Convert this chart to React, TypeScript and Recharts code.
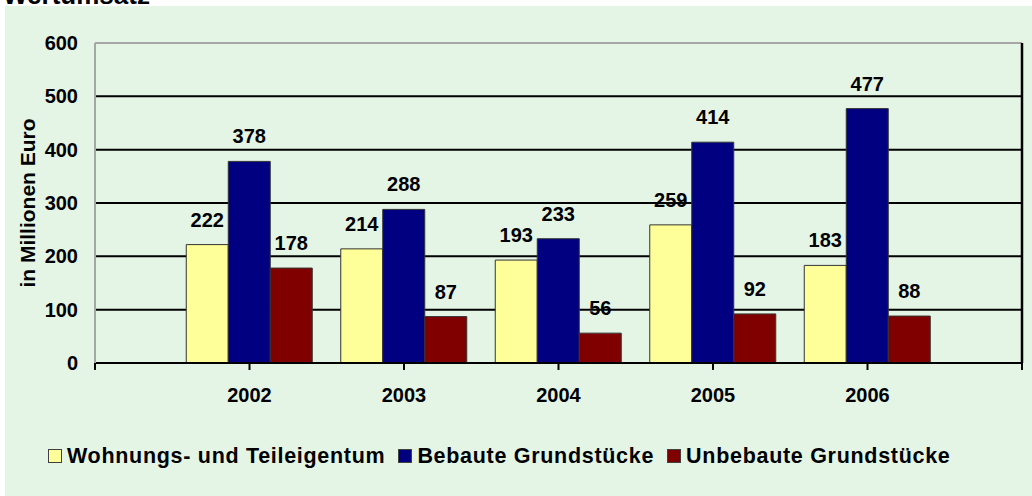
import React from 'react';
import { Bar, BarChart, CartesianGrid, LabelList, Legend, ReferenceLine, XAxis, YAxis } from 'recharts';

const years = ['2002', '2003', '2004', '2005', '2006'];
const wohnung = [222, 214, 193, 259, 183];
const bebaut = [378, 288, 233, 414, 477];
const unbebaut = [178, 87, 56, 92, 88];
const yTicks = [0, 100, 200, 300, 400, 500, 600];

const series = [
  { key: 'wohnung', name: 'Wohnungs- und Teileigentum', color: '#FFFF99' },
  { key: 'bebaut', name: 'Bebaute Grundstücke', color: '#000080' },
  { key: 'unbebaut', name: 'Unbebaute Grundstücke', color: '#800000' }
];

const data = years.map((year, i) => ({
  x: i + 1,
  year,
  wohnung: wohnung[i],
  bebaut: bebaut[i],
  unbebaut: unbebaut[i]
}));

const font = '"Liberation Sans", Arial, sans-serif';
const tickStyle = { fill: '#000', fontSize: 20, fontWeight: 'bold', fontFamily: font };

function LegendContent() {
  return (
    <div style={{ display: 'flex', alignItems: 'center', fontFamily: font, fontSize: 21.5, fontWeight: 'bold', lineHeight: '22px', letterSpacing: '0.7px', color: '#000', whiteSpace: 'nowrap' }}>
      {series.map((s) => (
        <div key={s.key} style={{ display: 'flex', alignItems: 'center', marginRight: 13 }}>
          <span style={{ display: 'inline-block', width: 12, height: 12, background: s.color, border: '1px solid #404040', marginRight: 5 }} />
          <span>{s.name}</span>
        </div>
      ))}
    </div>
  );
}

function YLabel({ viewBox }: any) {
  const cx = viewBox.x + 27;
  const cy = viewBox.y + viewBox.height / 2;
  return (
    <text x={cx} y={cy} transform={`rotate(-90 ${cx} ${cy})`} textAnchor="middle" dominantBaseline="central"
      fill="#000" fontSize={21} fontWeight="bold" fontFamily={font}>
      in Millionen Euro
    </text>
  );
}

export default function App() {
  return (
    <div style={{ position: 'absolute', left: 0, top: 0, width: 1032, height: 496, background: '#fff', overflow: 'hidden' }}>
      <div style={{ position: 'absolute', left: 5, top: 6, right: 0, bottom: 0, background: '#E5F5E5' }} />
      <div style={{ position: 'absolute', left: 3, top: -18, fontFamily: font, fontSize: 26, fontWeight: 'bold', lineHeight: '26px', color: '#000' }}>
        Wertumsatz
      </div>
      <div style={{ position: 'absolute', left: 0, top: 0 }}>
        <BarChart width={1032} height={496} data={data} barGap={0} margin={{ top: 43, right: 8, left: 0, bottom: 103 }}>
          <CartesianGrid vertical={false} stroke="#000" strokeWidth={2} />
          <XAxis
            type="number"
            dataKey="x"
            domain={[0, 6]}
            ticks={[0, 1, 2, 3, 4, 5, 6]}
            allowDataOverflow
            height={30}
            tickFormatter={(v: number) => years[v - 1] ?? ''}
            tick={tickStyle}
            tickSize={7}
            tickMargin={18}
            axisLine={{ stroke: '#000', strokeWidth: 2 }}
            tickLine={{ stroke: '#000', strokeWidth: 2 }}
          />
          <YAxis
            width={95}
            domain={[0, 600]}
            ticks={yTicks}
            tick={tickStyle}
            tickLine={false}
            tickSize={0}
            tickMargin={17}
            axisLine={{ stroke: '#a6a6a6', strokeWidth: 2 }}
            label={{ content: YLabel }}
          />
          <YAxis
            yAxisId="right"
            orientation="right"
            width={2}
            domain={[0, 600]}
            tick={false}
            tickLine={false}
            axisLine={{ stroke: '#000', strokeWidth: 2.5 }}
          />
          <ReferenceLine y={600} stroke="#a6a6a6" strokeWidth={2} ifOverflow="visible" />
          {series.map((s) => (
            <Bar key={s.key} dataKey={s.key} name={s.name} fill={s.color} stroke="#333" strokeWidth={1} barSize={42} isAnimationActive={false}>
              <LabelList dataKey={s.key} position="top" offset={18} fill="#000" fontSize={20} fontWeight="bold" fontFamily={font} />
            </Bar>
          ))}
          <Legend layout="horizontal" verticalAlign="middle" align="center" content={LegendContent}
            wrapperStyle={{ left: 48, top: 445, width: 'auto', height: 'auto' }} />
        </BarChart>
      </div>
    </div>
  );
}
